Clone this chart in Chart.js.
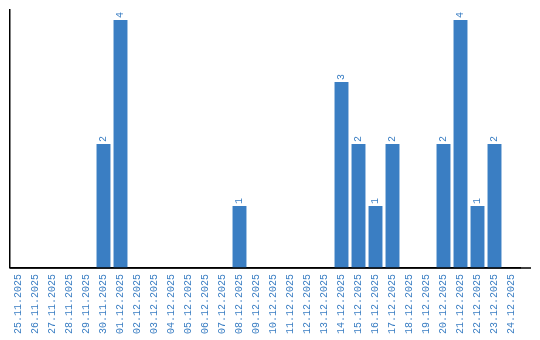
<!DOCTYPE html>
<html>
<head>
<meta charset="utf-8">
<script src="https://cdn.jsdelivr.net/npm/chart.js@4"></script>
<style>
  html, body { margin: 0; padding: 0; background: #fff; }
  #wrap { width: 540px; height: 340px; }
</style>
</head>
<body>
<div id="wrap"><canvas id="countChart"></canvas></div>
<script>
// Daily counts 25.11.2025 - 24.12.2025

const dates = [
    '25.11.2025', '26.11.2025', '27.11.2025', '28.11.2025', '29.11.2025', '30.11.2025',
    '01.12.2025', '02.12.2025', '03.12.2025', '04.12.2025', '05.12.2025', '06.12.2025',
    '07.12.2025', '08.12.2025', '09.12.2025', '10.12.2025', '11.12.2025', '12.12.2025',
    '13.12.2025', '14.12.2025', '15.12.2025', '16.12.2025', '17.12.2025', '18.12.2025',
    '19.12.2025', '20.12.2025', '21.12.2025', '22.12.2025', '23.12.2025', '24.12.2025'
];
const counts = [
    0, 0, 0, 0, 0, 2,
    4, 0, 0, 0, 0, 0,
    0, 1, 0, 0, 0, 0,
    0, 3, 2, 1, 2, 0,
    0, 2, 4, 1, 2, 0
];

const blue = '#3a7ec3';
const monoFont = 'Liberation Mono';

// rotated value labels above the bars, plus the x axis line running past the last bar
const barLabels = {
    id: 'barLabels',
    afterDatasetsDraw(chart) {
        const ctx = chart.ctx;
        const meta = chart.getDatasetMeta(0);
        ctx.save();
        ctx.font = '10px ' + monoFont;
        ctx.fillStyle = blue;
        ctx.textAlign = 'left';
        ctx.textBaseline = 'middle';
        meta.data.forEach((bar, i) => {
            if (!counts[i]) return;
            ctx.save();
            ctx.translate(bar.x, bar.y - 2);
            ctx.rotate(-Math.PI / 2);
            ctx.fillText(String(counts[i]), 0, 0);
            ctx.restore();
        });
        const area = chart.chartArea;
        ctx.strokeStyle = '#000';
        ctx.lineWidth = 1.5;
        ctx.beginPath();
        ctx.moveTo(area.left, area.bottom);
        ctx.lineTo(area.right + 11, area.bottom);
        ctx.stroke();
        ctx.restore();
    }
};

const chart = new Chart(document.getElementById('countChart'), {
    type: 'bar',
    data: {
        labels: dates,
        datasets: [{
            data: counts,
            backgroundColor: blue,
            barPercentage: 0.82,
            categoryPercentage: 1.0
        }]
    },
    options: {
        responsive: true,
        maintainAspectRatio: false,
        animation: false,
        layout: { padding: { left: 10, right: 20, top: 10, bottom: 0 } },
        plugins: {
            legend: { display: false },
            tooltip: { enabled: false }
        },
        scales: {
            x: {
                grid: { display: false, drawTicks: false },
                border: { display: true, color: '#000', width: 1.5 },
                ticks: {
                    color: blue,
                    font: { family: monoFont, size: 10 },
                    minRotation: 90,
                    maxRotation: 90,
                    autoSkip: false,
                    padding: 6
                }
            },
            y: {
                min: 0,
                max: 4.16,
                grid: { display: false, drawTicks: false },
                border: { display: true, color: '#000', width: 1.5 },
                ticks: { display: false }
            }
        }
    },
    plugins: [barLabels]
});
</script>
</body>
</html>
